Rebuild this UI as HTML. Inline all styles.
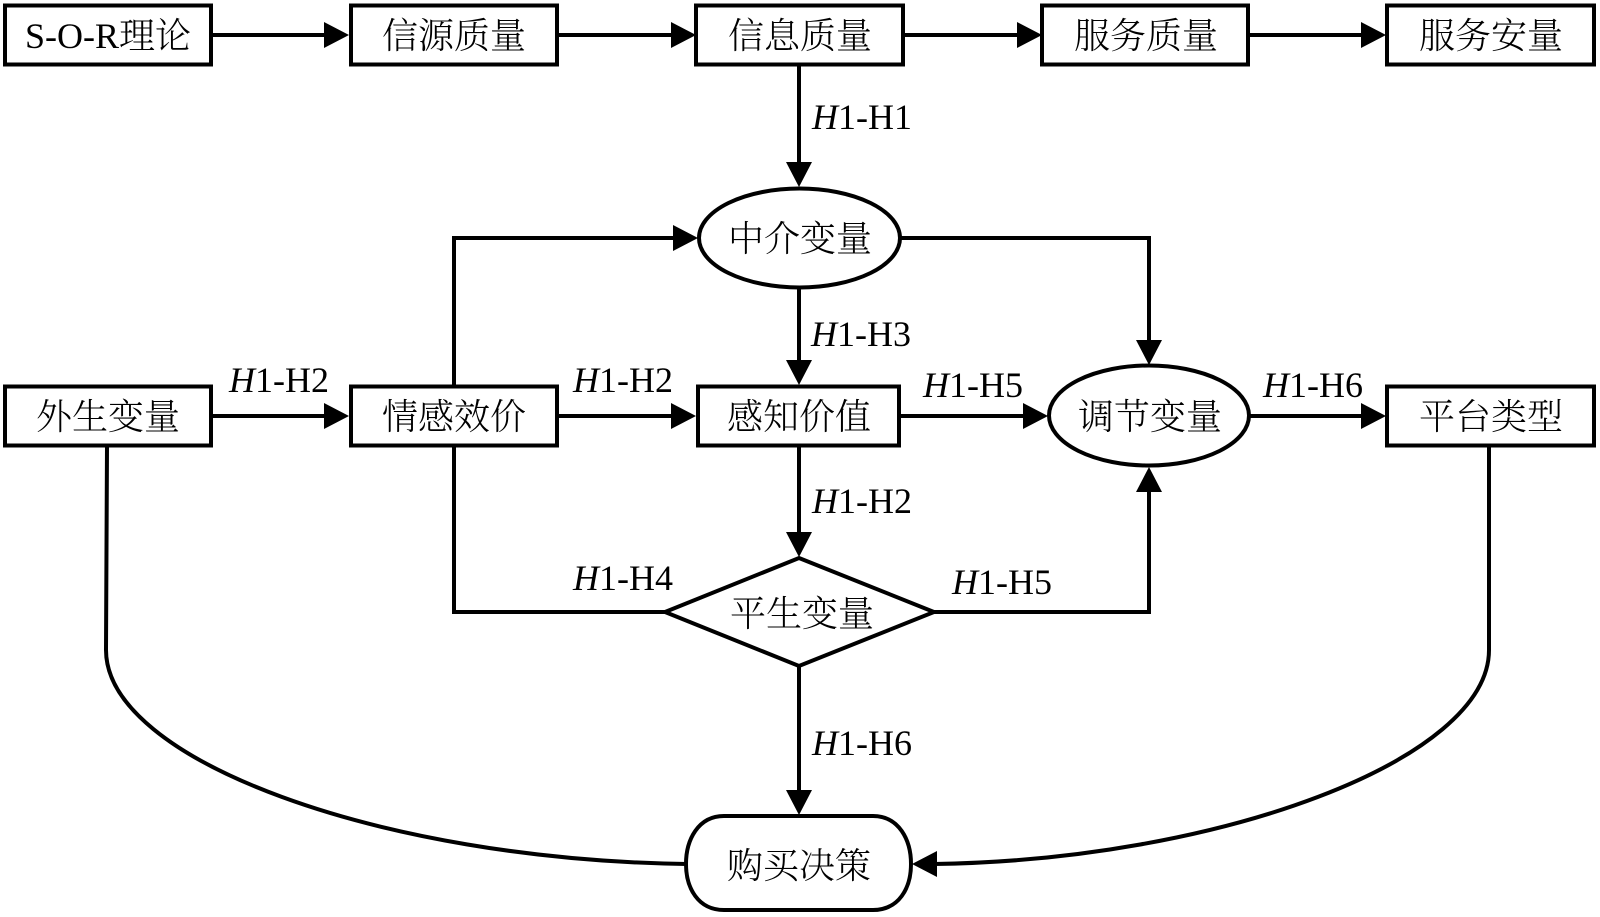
<!DOCTYPE html>
<html><head><meta charset="utf-8">
<style>
html,body{margin:0;padding:0;background:#fff}
svg{display:block}
.c{font-family:"Liberation Serif","Noto Serif CJK SC",serif;font-size:36px;font-weight:300;text-anchor:middle;fill:#000}
.l{font-family:"Liberation Serif",serif;font-size:36px;fill:#000}
.l tspan{font-style:italic}
</style></head><body>
<svg width="1600" height="917" viewBox="0 0 1600 917" xmlns="http://www.w3.org/2000/svg">
<rect width="1600" height="917" fill="#fff"/>
<g fill="none" stroke="#000" stroke-width="4">
<path d="M212 35H326M559 35H672M905 35H1018M1250 35H1362"/>
<path d="M799 65V164M799 288V362M799 446V535M799 666V792"/>
<path d="M212 416H326M559 416H672M900 416H1024M1250 416H1362"/>
<path d="M454 386V238H676M900 238H1149V340"/>
<path d="M454 446V612H665M934 612H1149V490"/>
<path d="M107 446L106 650C106 760 380 860 687 864"/>
<path d="M1489 446L1489 650C1489 760 1219 860 934 864"/>
</g>
<g fill="#000">
<path d="M349 35L324 22V48ZM696 35L671 22V48ZM1042 35L1017 22V48ZM1386 35L1361 22V48Z"/>
<path d="M349 416L324 403V429ZM696 416L671 403V429ZM1048 416L1023 403V429ZM1386 416L1361 403V429Z"/>
<path d="M698 238L673 225V251Z"/>
<path d="M799 187L786 162H812ZM799 385L786 360H812ZM799 557L786 532H812ZM799 815L786 790H812Z"/>
<path d="M1149 365L1136 340H1162ZM1149 467L1136 492H1162Z"/>
<path d="M912 864L937 851V877Z"/>
</g>
<g fill="#fff" stroke="#000" stroke-width="4">
<rect x="5" y="5.500" width="206" height="59"/>
<rect x="351" y="5.500" width="206" height="59"/>
<rect x="696" y="5.500" width="207" height="59"/>
<rect x="1042" y="5.500" width="206" height="59"/>
<rect x="1387" y="5.500" width="207" height="59"/>
<rect x="5" y="386.500" width="206" height="59"/>
<rect x="351" y="386.500" width="206" height="59"/>
<rect x="698" y="386.500" width="201" height="59"/>
<rect x="1387" y="386.500" width="207" height="59"/>
<ellipse cx="799.500" cy="238" rx="100.500" ry="49.500"/>
<ellipse cx="1149" cy="415.500" rx="100" ry="50"/>
<path d="M799 558L934 612L799 666L665 612Z"/>
<path d="M724 816H873C899 816 911 840 911 864C911 888 899 910 873 910H724C698 910 686 888 686 864C686 840 698 816 724 816Z"/>
</g>
<g class="c">
<text x="108" y="48">S-O-R理论</text>
<text x="454" y="48">信源质量</text>
<text x="800" y="48">信息质量</text>
<text x="1146" y="48">服务质量</text>
<text x="1491" y="48">服务安量</text>
<text x="800" y="251">中介变量</text>
<text x="108" y="429">外生变量</text>
<text x="454" y="429">情感效价</text>
<text x="799" y="429">感知价值</text>
<text x="1150" y="429">调节变量</text>
<text x="1491" y="429">平台类型</text>
<text x="802" y="626">平生变量</text>
<text x="799" y="878">购买决策</text>
</g>
<g class="l">
<text x="812" y="129"><tspan>H</tspan>1-H1</text>
<text x="811" y="346"><tspan>H</tspan>1-H3</text>
<text x="229" y="392"><tspan>H</tspan>1-H2</text>
<text x="573" y="392"><tspan>H</tspan>1-H2</text>
<text x="923" y="397"><tspan>H</tspan>1-H5</text>
<text x="1263" y="397"><tspan>H</tspan>1-H6</text>
<text x="812" y="513"><tspan>H</tspan>1-H2</text>
<text x="573" y="590"><tspan>H</tspan>1-H4</text>
<text x="952" y="594"><tspan>H</tspan>1-H5</text>
<text x="812" y="755"><tspan>H</tspan>1-H6</text>
</g>
</svg>
</body></html>
